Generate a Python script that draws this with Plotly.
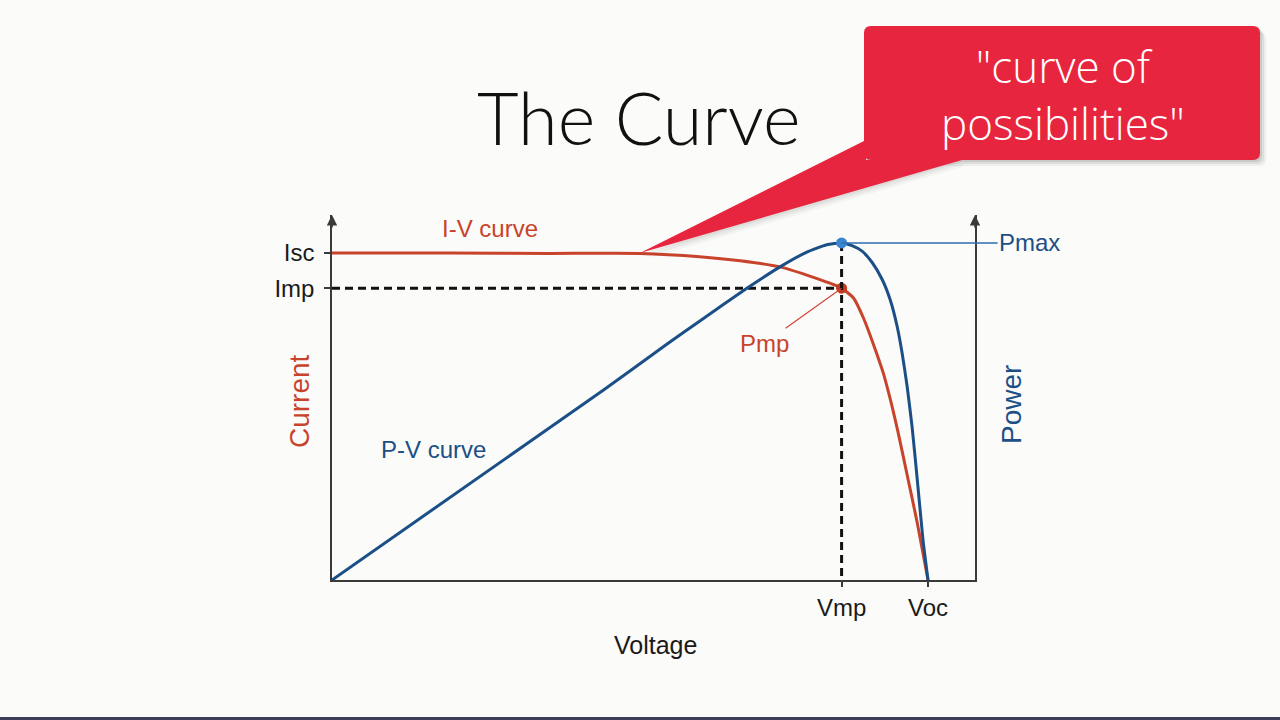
import plotly.graph_objects as go

# ---------------- data ----------------
iv_voltage = [0.000, 0.119, 0.219, 0.310, 0.370, 0.411, 0.451, 0.478, 0.498, 0.513,
              0.525, 0.535, 0.545, 0.555, 0.564, 0.570, 0.579, 0.589, 0.600]
iv_current = [8.00, 8.00, 7.99, 7.99, 7.91, 7.81, 7.66, 7.46, 7.29, 7.14,
              6.90, 6.41, 5.77, 5.06, 4.23, 3.60, 2.57, 1.42, 0.00]

pv_voltage = [0.000, 0.273, 0.337, 0.370, 0.418, 0.451, 0.478, 0.498, 0.513, 0.5235,
              0.5336, 0.5436, 0.554, 0.562, 0.569, 0.574, 0.579, 0.584, 0.589, 0.595, 0.600]
pv_power = [0.00, 2.06, 2.56, 2.81, 3.17, 3.40, 3.56, 3.64, 3.66, 3.63,
            3.57, 3.45, 3.26, 3.04, 2.75, 2.46, 2.10, 1.66, 1.11, 0.43, 0.00]

Isc, Imp = 8.00, 7.14
Vmp, Voc = 0.513, 0.600
Pmax = 3.66

y_tick_vals = [Isc, Imp]
y_tick_text = ["Isc", "Imp"]
x_tick_vals = [Vmp, Voc]
x_tick_text = ["Vmp", "Voc"]

V_MAX, I_MAX, P_MAX_AX = 0.6473, 8.93, 3.963

# ---------------- styling ----------------
W, H = 1280, 720
BG = "#fbfbf9"
RED = "#c8432b"
BLUE = "#1b4f86"
RED_DOT = "#c4391f"
BLUE_DOT = "#3a86d0"
AXIS = "#3a3a3a"
CALLOUT = "#e8253e"
FONT = "Liberation Sans"

def px(x):
    return x / W

def py(y):
    return 1 - y / H

fig = go.Figure()

fig.add_trace(go.Scatter(x=iv_voltage, y=iv_current, mode="lines",
                         line=dict(color=RED, width=3, shape="spline", smoothing=0.5),
                         yaxis="y", hoverinfo="skip"))
fig.add_trace(go.Scatter(x=pv_voltage, y=pv_power, mode="lines",
                         line=dict(color=BLUE, width=3, shape="spline", smoothing=0.5),
                         yaxis="y2", hoverinfo="skip"))
fig.add_trace(go.Scatter(x=[0, Vmp], y=[Imp, Imp], mode="lines",
                         line=dict(color="#111111", width=3, dash="8px,5px"),
                         yaxis="y", hoverinfo="skip"))
fig.add_trace(go.Scatter(x=[Vmp, Vmp], y=[Pmax, 0], mode="lines",
                         line=dict(color="#111111", width=3, dash="8px,5px"),
                         yaxis="y2", hoverinfo="skip"))
fig.add_trace(go.Scatter(x=[Vmp], y=[Imp], mode="markers",
                         marker=dict(color=RED_DOT, size=11), yaxis="y", hoverinfo="skip"))
fig.add_trace(go.Scatter(x=[Vmp], y=[Pmax], mode="markers",
                         marker=dict(color=BLUE_DOT, size=11), yaxis="y2", hoverinfo="skip"))

annotations = []
annotations.append(dict(x=0, y=I_MAX, xref="x", yref="y", ax=0, ay=14, text="",
                        showarrow=True, arrowhead=2, arrowsize=1.3, arrowwidth=1.6,
                        arrowcolor=AXIS))
annotations.append(dict(x=V_MAX, y=P_MAX_AX, xref="x", yref="y2", ax=0, ay=14, text="",
                        showarrow=True, arrowhead=2, arrowsize=1.3, arrowwidth=1.6,
                        arrowcolor=AXIS))
annotations.append(dict(x=0.159, y=8.59, xref="x", yref="y", text="I-V curve",
                        xanchor="center", yanchor="middle", showarrow=False,
                        font=dict(family=FONT, size=24, color=RED)))
annotations.append(dict(x=0.102, y=1.42, xref="x", yref="y2", text="P-V curve",
                        xanchor="center", yanchor="middle", showarrow=False,
                        font=dict(family=FONT, size=24, color=BLUE)))
annotations.append(dict(x=Vmp, y=Imp, xref="x", yref="y", text="Pmp",
                        showarrow=True, ax=-77, ay=55, arrowhead=0, arrowwidth=1.2,
                        arrowcolor="#d2463a", font=dict(family=FONT, size=24, color=RED)))
annotations.append(dict(x=Vmp, y=Pmax, xref="x", yref="y2", text="Pmax",
                        showarrow=True, ax=188, ay=0, arrowhead=0, arrowwidth=1.5,
                        arrowcolor="#2f6fae", font=dict(family=FONT, size=24, color=BLUE)))
annotations.append(dict(x=px(299), y=py(401), xref="paper", yref="paper", text="Current",
                        xanchor="center", yanchor="middle", textangle=-90, showarrow=False,
                        font=dict(family=FONT, size=28, color=RED)))
annotations.append(dict(x=px(1011), y=py(405), xref="paper", yref="paper", text="Power",
                        xanchor="center", yanchor="middle", textangle=-90, showarrow=False,
                        font=dict(family=FONT, size=28, color=BLUE)))
annotations.append(dict(x=px(655), y=py(645), xref="paper", yref="paper", text="Voltage",
                        xanchor="center", yanchor="middle", showarrow=False,
                        font=dict(family=FONT, size=25, color="#1a1a1a")))
annotations.append(dict(x=px(639), y=py(117), xref="paper", yref="paper", text="The Curve",
                        xanchor="center", yanchor="middle", showarrow=False,
                        font=dict(family="Lato", size=72, color="#111111", weight=300)))
annotations.append(dict(x=px(1063), y=py(95), xref="paper", yref="paper",
                        text="\"curve of<br>possibilities\"", xanchor="center", yanchor="middle",
                        showarrow=False,
                        font=dict(family="Open Sans", size=44, color="white", weight=300)))

def rounded_rect(x0, y0, x1, y1, r):
    pts = [
        f"M {px(x0 + r)},{py(y0)}",
        f"L {px(x1 - r)},{py(y0)}",
        f"Q {px(x1)},{py(y0)} {px(x1)},{py(y0 + r)}",
        f"L {px(x1)},{py(y1 - r)}",
        f"Q {px(x1)},{py(y1)} {px(x1 - r)},{py(y1)}",
        f"L {px(x0 + r)},{py(y1)}",
        f"Q {px(x0)},{py(y1)} {px(x0)},{py(y1 - r)}",
        f"L {px(x0)},{py(y0 + r)}",
        f"Q {px(x0)},{py(y0)} {px(x0 + r)},{py(y0)}",
        "Z",
    ]
    return " ".join(pts)

def poly(points):
    s = " ".join(("M" if i == 0 else "L") + f" {px(x)},{py(y)}" for i, (x, y) in enumerate(points))
    return s + " Z"

shapes = []
for off, op in [(6, 0.05), (4, 0.07), (2, 0.09)]:
    shapes.append(dict(type="path", xref="paper", yref="paper", layer="above",
                       path=rounded_rect(864 + off, 26 + off, 1260 + off, 160 + off, 7),
                       fillcolor=f"rgba(0,0,0,{op})", line=dict(width=0)))
    shapes.append(dict(type="path", xref="paper", yref="paper", layer="above",
                       path=poly([(640 + off, 253 + off), (864 + off, 145 + off), (960 + off, 160 + off)]),
                       fillcolor=f"rgba(0,0,0,{op * 0.6})", line=dict(width=0)))
shapes.append(dict(type="path", xref="paper", yref="paper", layer="above",
                   path=poly([(640, 253), (866, 140), (866, 160), (962, 160)]),
                   fillcolor=CALLOUT, line=dict(width=0)))
shapes.append(dict(type="path", xref="paper", yref="paper", layer="above",
                   path=rounded_rect(864, 26, 1260, 160, 7),
                   fillcolor=CALLOUT, line=dict(width=0)))
shapes.append(dict(type="rect", xref="paper", yref="paper", x0=0, x1=1, y0=0, y1=py(717),
                   fillcolor="#3b3f58", line=dict(width=0), layer="above"))

fig.update_layout(
    width=W, height=H,
    margin=dict(l=0, r=0, t=0, b=0),
    paper_bgcolor=BG, plot_bgcolor=BG,
    showlegend=False,
    xaxis=dict(domain=[px(332), px(975)], range=[0, V_MAX], showgrid=False, zeroline=False,
               showline=True, linecolor=AXIS, linewidth=1.6, ticks="outside", ticklen=5,
               tickwidth=1.6, tickcolor=AXIS, tickvals=x_tick_vals, ticktext=x_tick_text,
               tickfont=dict(family=FONT, size=24, color="#1a1a1a"), ticklabelstandoff=0,
               fixedrange=True),
    yaxis=dict(domain=[py(580), py(215)], range=[0, I_MAX], showgrid=False, zeroline=False,
               showline=True, linecolor=AXIS, linewidth=1.6, ticks="outside", ticklen=6,
               tickwidth=1.6, tickcolor=AXIS, tickvals=y_tick_vals, ticktext=y_tick_text,
               tickfont=dict(family=FONT, size=24, color="#1a1a1a"), ticklabelstandoff=5,
               fixedrange=True),
    yaxis2=dict(domain=[py(580), py(215)], range=[0, P_MAX_AX], overlaying="y", side="right",
                anchor="x", showgrid=False, zeroline=False, showline=True, linecolor=AXIS,
                linewidth=1.6, showticklabels=False, ticks="", fixedrange=True),
    annotations=annotations,
    shapes=shapes,
)

fig.write_html("out.html")
